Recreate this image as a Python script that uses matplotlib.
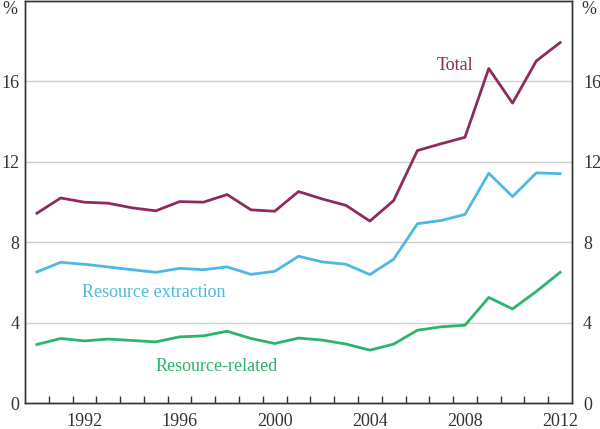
import matplotlib
matplotlib.use("Agg")
import matplotlib.pyplot as plt
import numpy as np

years = list(range(1990, 2013))
total = [9.44, 10.2, 9.99, 9.94, 9.71, 9.56, 10.02, 9.99, 10.37, 9.61, 9.54, 10.52,
         10.15, 9.83, 9.05, 10.07, 12.56, 12.9, 13.22, 16.64, 14.92, 17.02, 17.93]
extraction = [6.52, 7.0, 6.9, 6.77, 6.63, 6.5, 6.7, 6.63, 6.77, 6.4, 6.55, 7.3,
              7.02, 6.9, 6.39, 7.15, 8.92, 9.08, 9.38, 11.43, 10.27, 11.45, 11.41]
related = [2.91, 3.21, 3.09, 3.18, 3.11, 3.04, 3.29, 3.34, 3.57, 3.21, 2.96, 3.23,
           3.13, 2.93, 2.63, 2.93, 3.62, 3.79, 3.87, 5.25, 4.68, 5.55, 6.5]
ytick_vals = [0, 4, 8, 12, 16]
xtick_labels = ["1992", "1996", "2000", "2004", "2008", "2012"]

plt.rcParams['font.family'] = ['Liberation Serif', 'DejaVu Serif']
c_total = "#8E2B5E"
c_ext = "#4DB8E4"
c_rel = "#2BB46C"
txt = "#333333"
fs = 13

fig = plt.figure(figsize=(6, 4.29), dpi=100)
ax = fig.add_axes([25/600, 26/429, 547/600, 402/429])

x = np.array(years) + 0.5
ax.plot(x, total, color=c_total, lw=2)
ax.plot(x, extraction, color=c_ext, lw=2)
ax.plot(x, related, color=c_rel, lw=2)

ax.set_xlim(1990, 2013)
ax.set_ylim(0, 20)
for v in ytick_vals[1:]:
    ax.axhline(v, color="#d0d0d0", lw=1, zorder=0)

ax.set_xticks(range(1991, 2013), minor=False)
ax.set_xticklabels([])
ax.tick_params(axis='x', direction='in', length=5, width=1, color=txt)
for lab in xtick_labels:
    ax.text(int(lab) + 0.5, -0.5, lab, ha='center', va='top', fontsize=fs, color=txt)

ax.set_yticks(ytick_vals)
ax.set_yticklabels([str(v) for v in ytick_vals], fontsize=fs, color=txt)
ax.tick_params(axis='y', length=0, pad=4)
ax2 = ax.twinx()
ax2.set_ylim(0, 20)
ax2.set_yticks(ytick_vals)
ax2.set_yticklabels([str(v) for v in ytick_vals], fontsize=fs, color=txt)
ax2.tick_params(axis='y', length=0, pad=8)

for a in (ax, ax2):
    for s in a.spines.values():
        s.set_color(txt)
        s.set_linewidth(1)

fig.text(10/600, 1 - 10/429, "%", ha='center', va='center', fontsize=fs, color=txt)
fig.text(589/600, 1 - 10/429, "%", ha='center', va='center', fontsize=fs, color=txt)

ax.text(2008.1, 16.8, "Total", color=c_total, fontsize=fs, ha='center', va='center')
ax.text(1995.4, 5.52, "Resource extraction", color=c_ext, fontsize=fs, ha='center', va='center')
ax.text(1998.05, 1.84, "Resource-related", color=c_rel, fontsize=fs, ha='center', va='center')

fig.savefig("out.png", dpi=100)
